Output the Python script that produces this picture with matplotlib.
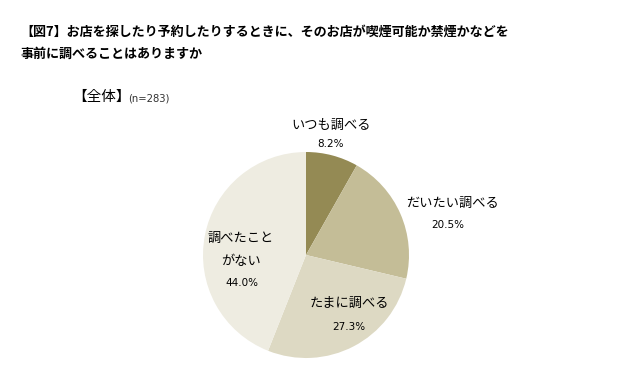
import matplotlib.pyplot as plt

plt.rcParams['font.family'] = ['Noto Sans CJK JP', 'DejaVu Sans']

# data
categories = ['いつも調べる', 'だいたい調べる', 'たまに調べる', '調べたこと\nがない']
shares = [8.2, 20.5, 27.3, 44.0]
colors = ['#948A54', '#C4BD97', '#DDD9C3', '#EEECE1']
title = '【図7】お店を探したり予約したりするときに、そのお店が喫煙可能か禁煙かなどを\n事前に調べることはありますか'

fig = plt.figure(figsize=(6.3, 3.85), dpi=100)

fig.text(0.032, 0.937, title, fontsize=9.4, fontweight='bold', va='top', ha='left', linespacing=1.75)
fig.text(0.114, 0.748, '【全体】', fontsize=10.5, va='center', ha='left')
fig.text(0.203, 0.745, '(n=283)', fontsize=8, va='center', ha='left', color='#333333',
         family='DejaVu Sans', stretch='condensed')

# pie axes, radius 1 in data units
ax = fig.add_axes([203 / 630, 27 / 385, 206 / 630, 206 / 385])
ax.pie(shares, colors=colors, startangle=90, counterclock=False, radius=1,
       wedgeprops=dict(linewidth=0))
ax.set_xlim(-1, 1)
ax.set_ylim(-1, 1)
ax.set_aspect('equal')
ax.axis('off')

# label positions (data units relative to pie)
label_pos = [(0.24, 1.26), (1.42, 0.50), (0.42, -0.47), (-0.63, 0.05)]
pct_pos = [(0.24, 1.08), (1.38, 0.29), (0.42, -0.70), (-0.62, -0.27)]

for cat, val, (lx, ly), (px, py) in zip(categories, shares, label_pos, pct_pos):
    ax.text(lx, ly, cat, fontsize=9.5, ha='center', va='center', linespacing=1.95, clip_on=False)
    ax.text(px, py, f'{val:.1f}%', fontsize=7.5, ha='center', va='center', clip_on=False,
            family='DejaVu Sans')

fig.savefig('out.png', dpi=100)
